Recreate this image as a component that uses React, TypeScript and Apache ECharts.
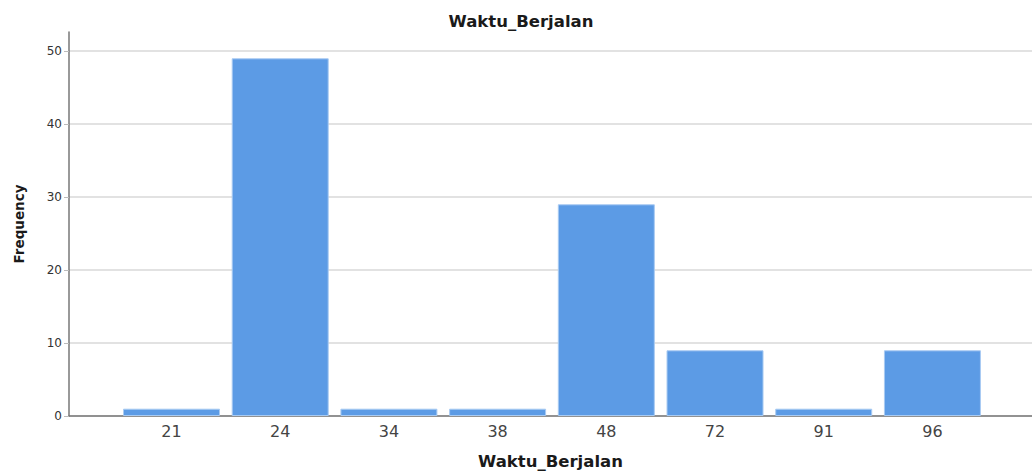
import React, { useEffect, useRef } from "react";
import * as echarts from "echarts";

const categories = ["21", "24", "34", "38", "48", "72", "91", "96"];
const frequencies = [1, 49, 1, 1, 29, 9, 1, 9];
const yTicks = [0, 10, 20, 30, 40, 50];

export default function App() {
  const ref = useRef<HTMLDivElement>(null);
  useEffect(() => {
    if (!ref.current) return;
    const chart = echarts.init(ref.current, null, { renderer: "svg" });
    const data = frequencies.map((v, i) => [i, v]);
    const boldName = { fontSize: 16.5, fontWeight: "bold", color: "#1a1a1a", fontFamily: "DejaVu Sans" };
    chart.setOption({
      animation: false,
      backgroundColor: "#ffffff",
      textStyle: { fontFamily: "DejaVu Sans, sans-serif" },
      title: {
        text: "Waktu_Berjalan",
        left: 516,
        textAlign: "center",
        top: 8,
        textStyle: boldName,
      },
      grid: { left: 69, right: 0, top: 32, bottom: 58, containLabel: false },
      xAxis: {
        type: "value",
        min: -0.943,
        max: 7.916,
        name: "Waktu_Berjalan",
        nameLocation: "middle",
        nameGap: 37,
        nameTextStyle: boldName,
        axisLine: { show: true, onZero: false, lineStyle: { color: "#777", width: 1.5 } },
        axisTick: { show: false },
        splitLine: { show: false },
        axisLabel: {
          customValues: categories.map((_, i) => i),
          formatter: (v: number) => categories[Math.round(v)] ?? "",
          fontSize: 16,
          color: "#444",
          margin: 7,
        },
      },
      yAxis: {
        type: "value",
        min: 0,
        max: 52.6,
        interval: 10,
        name: "Frequency",
        nameLocation: "middle",
        nameGap: 43,
        nameRotate: 90,
        nameTextStyle: { ...boldName, fontSize: 13.5 },
        axisLine: { show: true, onZero: false, lineStyle: { color: "#777", width: 1.5 } },
        axisTick: { show: true, length: 5, lineStyle: { color: "#bbb" }, customValues: yTicks },
        axisLabel: { customValues: yTicks, fontSize: 12, color: "#333", margin: 7 },
        splitLine: { show: true, lineStyle: { color: "#d8d8d8", width: 1.5 } },
      },
      series: [
        {
          type: "bar",
          data,
          barWidth: 97,
          itemStyle: { color: "#5c9be5", borderColor: "#a9cbf2", borderWidth: 1 },
        },
      ],
    });
    return () => chart.dispose();
  }, []);
  return (
    <div
      ref={ref}
      style={{ position: "fixed", left: 0, top: 0, width: 1032, height: 475 }}
    />
  );
}
